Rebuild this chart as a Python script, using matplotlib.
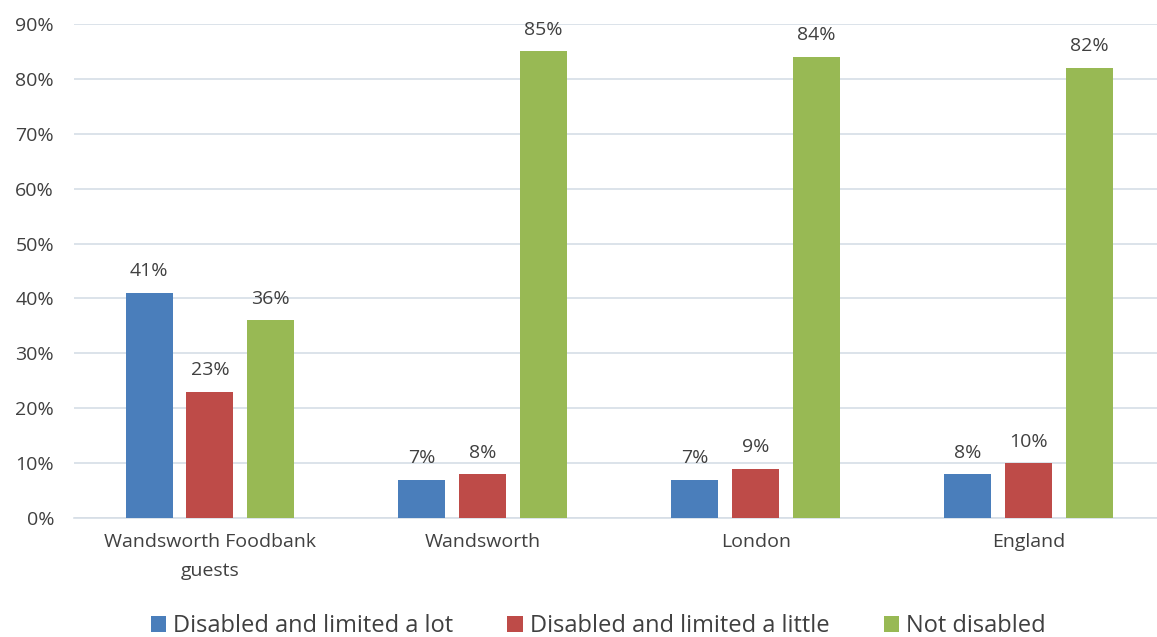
import numpy as np
import matplotlib.pyplot as plt
from matplotlib.ticker import FuncFormatter

# Disability status by area (percent of people)
areas = ["Wandsworth Foodbank\nguests", "Wandsworth", "London", "England"]
limited_lot = [41, 7, 7, 8]
limited_little = [23, 8, 9, 10]
not_disabled = [36, 85, 84, 82]
series_names = ["Disabled and limited a lot", "Disabled and limited a little", "Not disabled"]
colors = ["#4A7EBB", "#BE4B48", "#98B954"]

plt.rcParams['font.family'] = ['Open Sans', 'DejaVu Sans']
text_col = "#404040"

fig = plt.figure(figsize=(11.57, 6.37), dpi=100)
ax = fig.add_axes([73.5 / 1157, 119 / 637, (1157 - 73.5) / 1157, 494 / 637])

x = np.arange(len(areas))
step = 0.223
width = 0.172
for i, (vals, name, c) in enumerate(zip([limited_lot, limited_little, not_disabled], series_names, colors)):
    bars = ax.bar(x + (i - 1) * step, vals, width, color=c, label=name, zorder=3)
    for b, v in zip(bars, vals):
        ax.annotate(f"{v}%", (b.get_x() + b.get_width() / 2, v), xytext=(0, 9),
                    textcoords="offset points", ha="center", va="bottom",
                    fontsize=14, color=text_col)

ax.set_ylim(0, 90)
ax.set_xlim(-0.5, 3.5 - 8 / 273)
ax.set_yticks(range(0, 91, 10))
ax.yaxis.set_major_formatter(FuncFormatter(lambda v, p: f"{v:.0f}%"))
ax.set_xticks(x)
ax.set_xticklabels(areas, linespacing=1.8)
ax.tick_params(axis="both", length=0, labelsize=14, labelcolor=text_col)
ax.tick_params(axis="y", pad=14)
ax.tick_params(axis="x", pad=11)
ax.grid(axis="y", color="#D6DEE6", linewidth=1.2, zorder=0)
for s in ["top", "right", "left"]:
    ax.spines[s].set_visible(False)
ax.spines["bottom"].set_color("#D6DEE6")
ax.spines["bottom"].set_linewidth(1.2)

fig.legend(loc="center", bbox_to_anchor=(0.517, 1 - 626 / 637), ncol=3, frameon=False,
           fontsize=17, handlelength=0.65, handleheight=0.65, handletextpad=0.3,
           columnspacing=2.3, labelcolor=text_col)

fig.savefig("out.png", dpi=100)
